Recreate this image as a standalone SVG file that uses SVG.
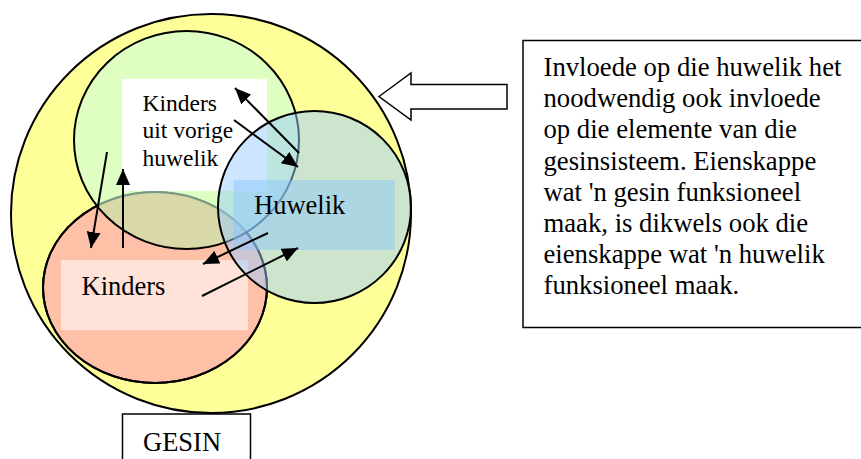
<svg xmlns="http://www.w3.org/2000/svg" width="861" height="459" viewBox="0 0 861 459">
<defs>
<marker id="ah" markerUnits="userSpaceOnUse" markerWidth="18" markerHeight="14" refX="16" refY="7" orient="auto">
<path d="M0,0 L16,7 L0,14 Z" fill="#000"/>
</marker>
<clipPath id="redclip"><ellipse cx="155" cy="287.5" rx="112" ry="95.5"/></clipPath>
<style>
.t{font-family:"Liberation Serif","Times New Roman",serif;fill:#000}
.c{stroke:#000;stroke-width:2}
.a{stroke:#000;stroke-width:2;fill:none;marker-end:url(#ah)}
</style>
</defs>
<rect width="861" height="459" fill="#fff"/>
<g id="gesin-circle">
<ellipse cx="211" cy="213.5" rx="200" ry="199.5" fill="#FFFF99" class="c"/>
</g>
<g id="kinders">
<ellipse cx="155" cy="287.5" rx="112" ry="95.5" fill="#FFC0A8" class="c"/>
<ellipse cx="186.5" cy="140" rx="112.5" ry="109" fill="#F09D5A" clip-path="url(#redclip)"/>
<ellipse cx="155" cy="287.5" rx="112" ry="95.5" fill="none" class="c"/>
<rect x="61" y="260" width="187" height="70" fill="#fff" fill-opacity="0.55"/>
</g>
<g id="kinders-vorige">
<ellipse cx="186.5" cy="140" rx="112.5" ry="109" fill="#C8FFDC" fill-opacity="0.6" class="c"/>
<rect x="122" y="79" width="145" height="112" fill="#fff"/>
</g>
<g id="huwelik">
<ellipse cx="314.5" cy="207" rx="96.5" ry="96" fill="#99CCFF" fill-opacity="0.5" class="c"/>
<rect x="233.5" y="180" width="161.5" height="70" fill="#88C4FF" fill-opacity="0.45"/>
</g>
<g id="labels">
<text class="t" font-size="23.5" x="142.5" y="110.5">Kinders</text>
<text class="t" font-size="23.5" x="142.5" y="138.3">uit vorige</text>
<text class="t" font-size="23.5" x="142.5" y="166">huwelik</text>
<text class="t" font-size="26.5" x="254" y="214">Huwelik</text>
<text class="t" font-size="26.5" x="81.5" y="295">Kinders</text>
</g>
<g id="connectors">
<line class="a" x1="234" y1="120" x2="298" y2="167"/>
<line class="a" x1="299" y1="153" x2="235" y2="88"/>
<line class="a" x1="107" y1="152" x2="91" y2="248"/>
<line class="a" x1="123" y1="248" x2="123" y2="169"/>
<line class="a" x1="268" y1="233" x2="203" y2="264"/>
<line class="a" x1="202" y1="296" x2="298" y2="248"/>
<polygon points="379,96.5 411,73 411,84.5 507,84.5 507,109 411,109 411,120" fill="#fff" stroke="#000" stroke-width="1.5"/>
</g>
<g id="gesin-label">
<rect x="122.5" y="414" width="128" height="60" fill="#fff" stroke="#000" stroke-width="1.5"/>
<text class="t" font-size="26.5" x="143" y="450.5">GESIN</text>
</g>
<g id="note">
<rect x="523" y="40.5" width="345" height="287" fill="#fff" stroke="#000" stroke-width="1.5"/>
<text class="t" font-size="26.7">
<tspan x="543.5" y="76">Invloede op die huwelik het</tspan>
<tspan x="543.5" y="107.2">noodwendig ook invloede</tspan>
<tspan x="543.5" y="138.4">op die elemente van die</tspan>
<tspan x="543.5" y="169.6">gesinsisteem. Eienskappe</tspan>
<tspan x="543.5" y="200.8">wat 'n gesin funksioneel</tspan>
<tspan x="543.5" y="232">maak, is dikwels ook die</tspan>
<tspan x="543.5" y="263.2">eienskappe wat 'n huwelik</tspan>
<tspan x="543.5" y="294.4">funksioneel maak.</tspan>
</text>
</g>
</svg>
